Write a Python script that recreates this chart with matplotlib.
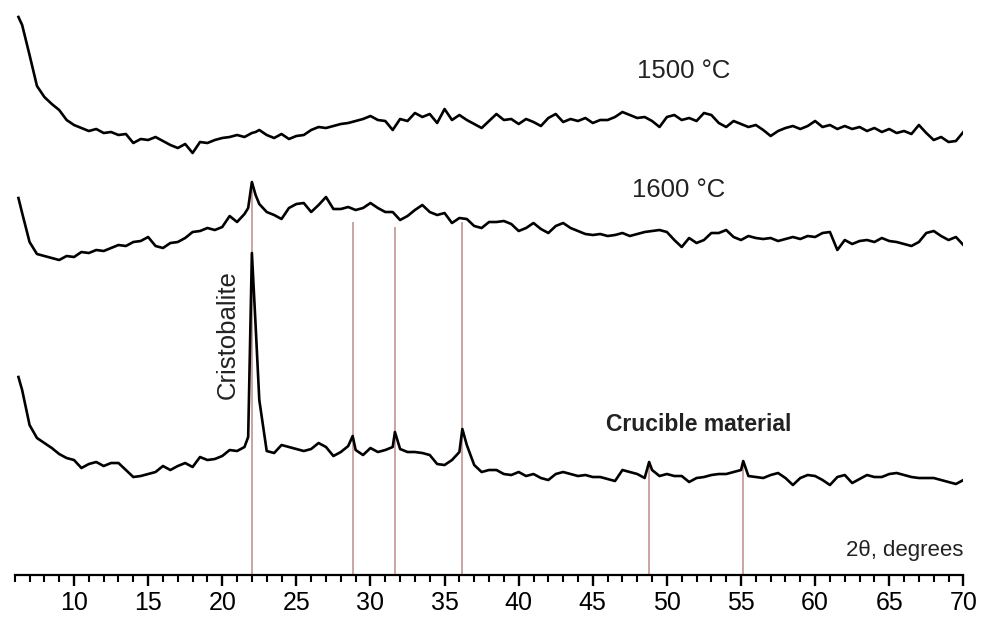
import numpy as np
import matplotlib
matplotlib.use("Agg")
import matplotlib.pyplot as plt
from matplotlib.ticker import MultipleLocator

plt.rcParams['font.family'] = ['Liberation Sans', 'DejaVu Sans']

# ---------------------------------------------------------------------
# 2-theta grid (degrees) shared by the 1500 and 1600 °C patterns
# ---------------------------------------------------------------------
two_theta = np.sort(np.r_[np.arange(6.5, 70.01, 0.5), [6.25, 21.75, 22.25]])

# intensities, arbitrary units, already stacked
i_1500 = [583, 575, 545, 514, 503, 496, 490, 480, 475, 472,
          469, 471, 467, 468, 465, 466, 457, 461, 460, 463,
          459, 455, 452, 456, 447, 458, 457, 460, 462, 463,
          465, 463, 465, 467, 468, 470, 465, 462, 466, 461,
          464, 465, 470, 473, 472, 474, 476, 477, 479, 481,
          484, 480, 479, 470, 481, 479, 487, 483, 486, 477,
          491, 480, 485, 480, 476, 472, 479, 486, 480, 481,
          476, 481, 478, 474, 482, 486, 478, 481, 479, 482,
          477, 480, 480, 483, 488, 485, 482, 483, 479, 473,
          483, 485, 480, 482, 479, 487, 485, 477, 473, 479,
          476, 473, 475, 470, 464, 469, 472, 474, 471, 474,
          479, 473, 475, 471, 474, 471, 473, 469, 472, 468,
          471, 467, 469, 466, 475, 467, 460, 463, 458, 459, 468]

i_1600 = [402, 387, 358, 346, 344, 342, 340, 344, 343, 348,
          347, 350, 349, 352, 355, 354, 358, 359, 363, 354,
          352, 357, 358, 362, 368, 369, 372, 370, 373, 384,
          378, 386, 392, 418, 405, 396, 388, 385, 381, 392,
          396, 397, 388, 395, 403, 391, 391, 393, 390, 392,
          397, 392, 388, 388, 380, 384, 390, 395, 388, 385,
          387, 377, 382, 381, 374, 372, 378, 378, 379, 376,
          369, 372, 377, 371, 367, 374, 377, 372, 369, 366,
          365, 366, 364, 365, 367, 364, 366, 368, 369, 370,
          368, 360, 353, 362, 357, 360, 367, 367, 370, 363,
          360, 364, 362, 361, 362, 359, 361, 363, 361, 364,
          363, 367, 368, 350, 360, 356, 359, 360, 358, 362,
          359, 358, 356, 354, 358, 367, 369, 364, 360, 363, 355]

# crucible material pattern (extra points on the reflections)
peak_theta = [28.8, 31.65, 36.2, 48.8, 55.15]
two_theta_crucible = np.sort(np.r_[two_theta, peak_theta])
i_crucible = [223, 210, 175, 162, 157, 152, 146, 142, 140, 132,
              136, 138, 134, 137, 137, 130, 123, 124, 126, 128,
              134, 130, 134, 137, 133, 143, 140, 141, 144, 150,
              149, 153, 163, 347, 275, 200, 149, 147, 155, 153,
              151, 149, 151, 157, 153, 144, 148, 154, 164, 150,
              145, 152, 148, 150, 153, 168, 151, 148, 148, 147,
              145, 136, 135, 140, 148, 171, 155, 135, 128, 130,
              130, 126, 125, 128, 124, 126, 122, 120, 126, 128,
              126, 124, 125, 123, 123, 121, 119, 130, 128, 126,
              122, 138, 130, 124, 126, 124, 124, 118, 122, 123,
              125, 126, 126, 128, 130, 139, 124, 123, 122, 125,
              127, 122, 115, 122, 125, 124, 120, 115, 123, 125,
              117, 121, 125, 123, 123, 126, 127, 125, 123, 122,
              122, 122, 120, 118, 116, 120]

# reference reflections: position and upper end of the marker line
ref_theta = [22.0, 28.8, 31.65, 36.2, 48.8, 55.15]
ref_top = [410, 378, 373, 378, 137, 138]

# ---------------------------------------------------------------------
# Plot
# ---------------------------------------------------------------------
fig = plt.figure(figsize=(9.82, 6.24), dpi=100)
ax = fig.add_axes([0.015, 0.0793, 0.966, 0.9207])

ax.vlines(ref_theta, 25.5, ref_top, color='#c49494', lw=1.2, zorder=1)

for x, y in [(two_theta, i_1500), (two_theta, i_1600),
             (two_theta_crucible, i_crucible)]:
    ax.plot(x, y, color='black', lw=1.9, zorder=2)

ax.text(51.16, 529, '1500 °C', ha='center', va='center', fontsize=18.5, color='#222222')
ax.text(50.76, 410, '1600 °C', ha='center', va='center', fontsize=18.5, color='#222222')
ax.text(52.17, 176, 'Crucible material', ha='center', va='center',
        fontsize=16.5, fontweight='bold', color='#222222')
ax.text(20.36, 265, 'Cristobalite', ha='center', va='center',
        rotation=90, fontsize=18.5, color='#222222')
ax.text(70, 50, '2θ, degrees', ha='right', va='center', fontsize=16, color='#222222')

ax.set_xlim(6, 70)
ax.set_ylim(25.5, 600)
ax.xaxis.set_major_locator(MultipleLocator(5))
ax.xaxis.set_minor_locator(MultipleLocator(1))
ax.set_xticks(np.arange(10, 71, 5))
ax.tick_params(axis='x', which='major', length=8, width=1.7, labelsize=18, pad=4)
ax.tick_params(axis='x', which='minor', length=5, width=1.5)
ax.set_yticks([])
for side in ['top', 'right', 'left']:
    ax.spines[side].set_visible(False)
ax.spines['bottom'].set_linewidth(1.6)

fig.savefig('out.png', dpi=100)
